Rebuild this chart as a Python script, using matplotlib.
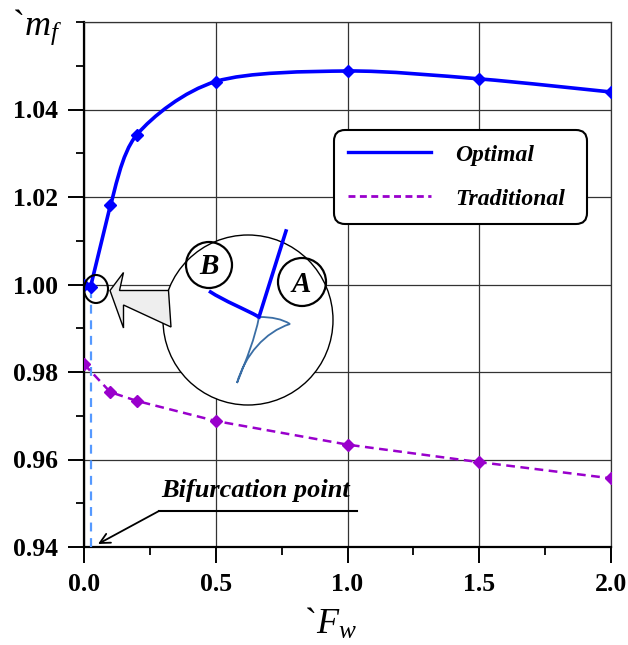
import numpy as np
import matplotlib
matplotlib.use("Agg")
import matplotlib.pyplot as plt
from matplotlib.path import Path
from matplotlib.patches import PathPatch, Circle, Ellipse, Polygon
from matplotlib.lines import Line2D
from matplotlib.ticker import MultipleLocator

plt.rcParams['font.family'] = ['Liberation Serif', 'DejaVu Serif']
plt.rcParams['mathtext.fontset'] = 'custom'
plt.rcParams['mathtext.rm'] = 'Liberation Serif'
plt.rcParams['mathtext.it'] = 'Liberation Serif:italic'

# ---- data ----
fw_opt = [0.0, 0.025, 0.1, 0.2, 0.5, 1.0, 1.5, 2.0]
mf_opt = [1.000, 0.9995, 1.0181, 1.0342, 1.0464, 1.0488, 1.0470, 1.0440]
fw_trad = [0.0, 0.1, 0.2, 0.5, 1.0, 1.5, 2.0]
mf_trad = [0.9818, 0.9754, 0.9734, 0.9688, 0.9634, 0.9594, 0.9557]
bifurcation_fw = 0.027
x_ticks = [0.0, 0.5, 1.0, 1.5, 2.0]
x_ticklabels = ["0.0", "0.5", "1.0", "1.5", "2.0"]
y_ticks = [0.94, 0.96, 0.98, 1.00, 1.02, 1.04]
y_ticklabels = ["0.94", "0.96", "0.98", "1.00", "1.02", "1.04"]
y_grid = [0.94, 0.96, 0.98, 1.00, 1.02, 1.04, 1.06]

W, H = 628, 645
fig = plt.figure(figsize=(W / 100, H / 100), dpi=100)
ax = fig.add_axes([84 / W, 1 - 547 / H, (611 - 84) / W, (547 - 22) / H])
ax.set_xlim(0, 2.0)
ax.set_ylim(0.94, 1.06)

ax.set_xticks(x_ticks)
ax.set_xticklabels(x_ticklabels)
ax.set_yticks(y_ticks)
ax.set_yticklabels(y_ticklabels)
ax.xaxis.set_minor_locator(MultipleLocator(0.25))
ax.yaxis.set_minor_locator(MultipleLocator(0.01))
ax.tick_params(which='major', direction='out', length=11.5, width=1.4, labelsize=18.5)
ax.tick_params(axis='y', which='major', pad=7)
ax.tick_params(axis='x', which='major', pad=7)
ax.tick_params(which='minor', direction='out', length=6, width=1.3)
for lab in ax.get_xticklabels() + ax.get_yticklabels():
    lab.set_fontweight('bold')
ax.grid(True, axis='x', which='major', color='#333333', linewidth=0.9)
for yv in y_grid:
    ax.axhline(yv, color='#333333', linewidth=0.9, zorder=0.5)
for s in ['left', 'bottom']:
    ax.spines[s].set_linewidth(1.6)
for s in ['top', 'right']:
    ax.spines[s].set_linewidth(0.9)
    ax.spines[s].set_color('#333333')


def smooth_path(xs, ys, t=0.5):
    """Catmull-Rom converted to cubic Bezier path through data points."""
    pts = np.column_stack([np.asarray(xs, float), np.asarray(ys, float)])
    verts = [pts[0]]
    codes = [Path.MOVETO]
    n = len(pts)
    for i in range(n - 1):
        p0 = pts[i - 1] if i > 0 else pts[i]
        p1 = pts[i]
        p2 = pts[i + 1]
        p3 = pts[i + 2] if i + 2 < n else pts[i + 1]
        c1 = p1 + (p2 - p0) * t / 3
        c2 = p2 - (p3 - p1) * t / 3
        verts += [c1, c2, p2]
        codes += [Path.CURVE4] * 3
    return Path(verts, codes)


blue = '#0000FF'
purple = '#9900CC'
ax.plot(fw_opt[:3], mf_opt[:3], color=blue, lw=2.6, zorder=4)
ax.add_patch(PathPatch(smooth_path(fw_opt[2:], mf_opt[2:], t=0.45), fill=False,
                       edgecolor=blue, lw=2.6, zorder=4))
ax.plot(fw_opt, mf_opt, ls='none', marker='D', ms=6.5, color=blue, zorder=5)

ax.plot(fw_trad, mf_trad, color=purple, lw=1.8, ls=(0, (3.5, 2.2)),
        marker='D', ms=6.5, zorder=4)

ax.plot([bifurcation_fw, bifurcation_fw], [0.94, 0.9992], color='#5599FF',
        lw=1.6, ls=(0, (4, 3)), zorder=3)

# legend
h1 = Line2D([], [], color=blue, lw=2.4)
h2 = Line2D([], [], color=purple, lw=2.0, ls=(0, (2.5, 1.6)))
ax_h = 525.0
leg = ax.legend([h1, h2], ['Optimal', 'Traditional'],
                loc='upper left',
                bbox_to_anchor=((334 - 84) / 527, (547 - 130) / ax_h, (587 - 334) / 527, 0.0),
                mode='expand', prop=dict(family='Liberation Serif', weight='bold',
                                         style='italic', size=17),
                handlelength=3.5, handletextpad=1.05, labelspacing=0.95,
                borderpad=0.6, fancybox=True, framealpha=1, borderaxespad=0)
leg.get_frame().set_edgecolor('black')
leg.get_frame().set_linewidth(1.5)
leg.get_frame().set_boxstyle('round', pad=0.0, rounding_size=0.45)
leg.set_zorder(10)

# axis labels
fig.text(12 / W, 1 - 27 / H, '`$m_f$', fontsize=26, ha='left', va='center')
fig.text(330 / W, 1 - 624 / H, '`$F_w$', fontsize=26, ha='center', va='center')

# overlay in pixel coordinates for annotations
ov = fig.add_axes([0, 0, 1, 1], zorder=20)
ov.set_xlim(0, W)
ov.set_ylim(H, 0)
ov.axis('off')
ov.patch.set_visible(False)

# zoom circle
ov.add_patch(Circle((248, 320), 85, facecolor='white', edgecolor='black', lw=1.0))
ov.add_patch(Ellipse((96, 289), 24, 28, fill=False, edgecolor='black', lw=1.5))
arrow = [(110, 290.5), (123.5, 272.5), (119.5, 290.5), (168.5, 290.5),
         (171, 327), (123.5, 305), (123.5, 328), (110, 290.5)]
ov.add_patch(Polygon(arrow, closed=True, facecolor='#EEEEEE', edgecolor='black', lw=1.0))

# inset drawing
ov.plot([259, 286], [317, 231], color=blue, lw=2.6)
bpath = Path([(209, 291), (226, 302), (243, 308), (259, 317)],
             [Path.MOVETO, Path.CURVE4, Path.CURVE4, Path.CURVE4])
ov.add_patch(PathPatch(bpath, fill=False, edgecolor=blue, lw=2.6))
cusp = Path([(259, 317), (272, 317), (282, 319), (290, 324),
             (265, 332), (245, 355), (237, 383),
             (247, 358), (255, 338), (259, 317)],
            [Path.MOVETO, Path.CURVE4, Path.CURVE4, Path.CURVE4,
             Path.CURVE4, Path.CURVE4, Path.CURVE4,
             Path.CURVE4, Path.CURVE4, Path.CURVE4])
ov.add_patch(PathPatch(cusp, fill=False, edgecolor='#3A6EA5', lw=1.3))
ov.add_patch(Circle((209, 265), 23, fill=False, edgecolor='black', lw=1.6))
ov.add_patch(Circle((302, 282), 24, fill=False, edgecolor='black', lw=1.6))
ov.text(209, 266, 'B', fontsize=21, fontweight='bold', style='italic', ha='center', va='center')
ov.text(301, 284, 'A', fontsize=21, fontweight='bold', style='italic', ha='center', va='center')

# bifurcation annotation
ov.text(256, 491, 'Bifurcation point', fontsize=19, fontweight='bold', style='italic',
        ha='center', va='center')
ov.plot([159, 357], [511, 511], color='black', lw=1.5)
ov.annotate('', xy=(98, 544), xytext=(159, 511),
            arrowprops=dict(arrowstyle='->', color='black', lw=1.3,
                            mutation_scale=18, shrinkA=0, shrinkB=0))

fig.savefig('out.png', dpi=100)
